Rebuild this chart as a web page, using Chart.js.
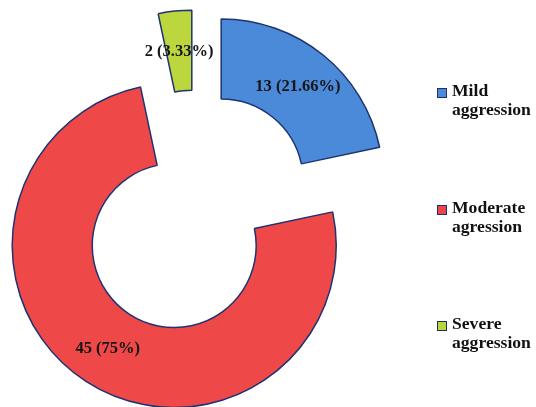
<!DOCTYPE html>
<html><head><meta charset="utf-8">
<script src="https://cdn.jsdelivr.net/npm/chart.js@4"></script>
<style>
html,body{margin:0;padding:0;background:#fff;}
#wrap{position:relative;width:536px;height:407px;overflow:hidden;}
#c{position:absolute;left:0;top:0;}
.lg{position:absolute;left:437px;font:bold 17.6px "Liberation Serif",serif;line-height:19px;color:#111;white-space:nowrap;}
.lg i{position:absolute;left:0;top:7px;width:8px;height:8px;border:1px solid #1f2f6a;}
.lg span{display:block;margin-left:15px;}
</style></head>
<body>
<div id="wrap">
<canvas id="c" width="536" height="407"></canvas>
<div class="lg" style="top:81px"><i style="background:#4a8ad8"></i><span>Mild<br>aggression</span></div>
<div class="lg" style="top:198px"><i style="background:#ec4646"></i><span>Moderate<br>agression</span></div>
<div class="lg" style="top:314px"><i style="background:#b9d43c"></i><span>Severe<br>aggression</span></div>
</div>
<script>
const categories = ['Mild aggression', 'Moderate agression', 'Severe aggression'];
const counts = [13, 45, 2];
const percents = ['21.66%', '75%', '3.33%'];

const sliceColors = ['#4a8ad8', '#ef4848', '#bcd63e'];
const EXPLODE = 40;

const explodePlugin = {
  id: 'explode',
  afterDatasetsUpdate(chart) {
    chart.getDatasetMeta(0).data.forEach(el => {
      if (el._patched) return;
      el._patched = true;
      const base = Object.getPrototypeOf(el).draw;
      el.draw = function (ctx, area) {
        const h = (this.startAngle + this.endAngle) / 2;
        ctx.save();
        ctx.translate(Math.cos(h) * EXPLODE, Math.sin(h) * EXPLODE);
        base.call(this, ctx, area);
        ctx.restore();
      };
    });
  },
  afterDatasetsDraw(chart) {
    const ctx = chart.ctx;
    ctx.save();
    ctx.font = 'bold 16.5px "Liberation Serif", serif';
    ctx.fillStyle = '#161616';
    ctx.textAlign = 'center';
    ctx.textBaseline = 'middle';
    chart.getDatasetMeta(0).data.forEach((el, i) => {
      const h = (el.startAngle + el.endAngle) / 2;
      const r = EXPLODE + (el.innerRadius + el.outerRadius) / 2;
      ctx.fillText(counts[i] + ' (' + percents[i] + ')', el.x + Math.cos(h) * r, el.y + Math.sin(h) * r + 1);
    });
    ctx.restore();
  }
};

new Chart(document.getElementById('c'), {
  type: 'doughnut',
  data: {
    labels: categories,
    datasets: [{
      data: counts,
      backgroundColor: sliceColors,
      borderColor: '#1f3372',
      borderWidth: 1.5
    }]
  },
  options: {
    responsive: false,
    animation: false,
    events: [],
    radius: 162,
    cutout: '50.6%',
    layout: { padding: { left: 0, right: 144, top: 17, bottom: 0 } },
    plugins: { legend: { display: false }, tooltip: { enabled: false } }
  },
  plugins: [explodePlugin]
});
</script>
</body></html>
